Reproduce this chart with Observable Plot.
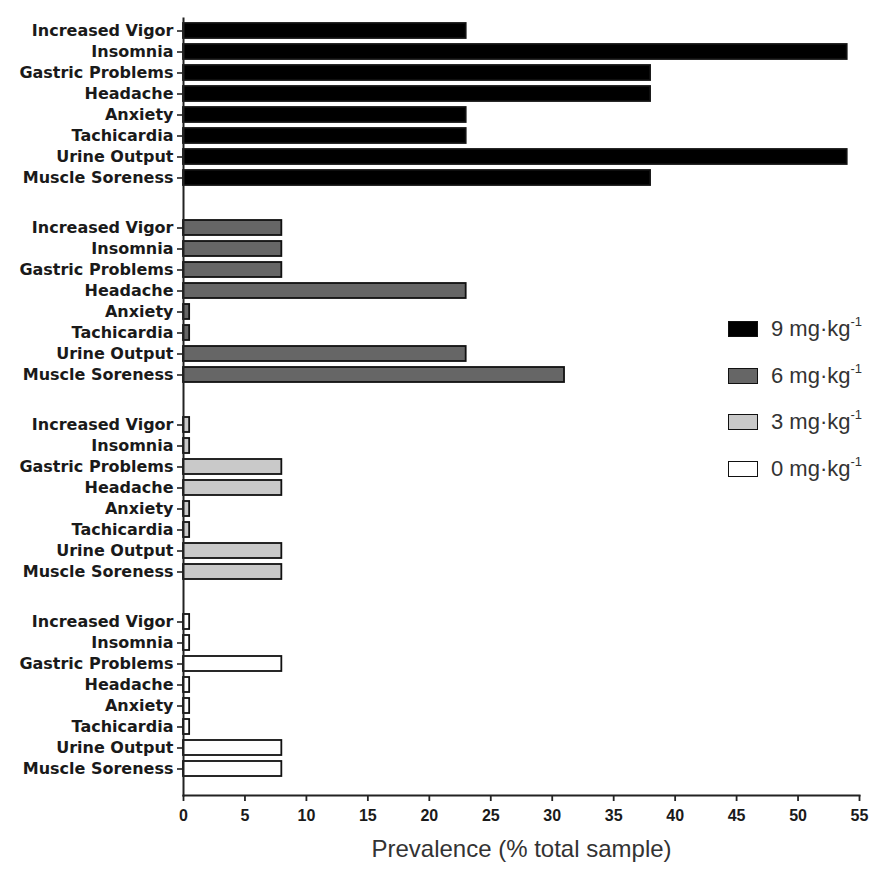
<!DOCTYPE html>
<html>
<head>
<meta charset="utf-8">
<script src="https://cdn.jsdelivr.net/npm/d3@7"></script>
<script src="https://cdn.jsdelivr.net/npm/@observablehq/plot@0.6"></script>
<style>
  body { margin: 0; background: #fff; }
  #wrap { position: relative; width: 873px; height: 872px; }
  .legend { position: absolute; left: 728px; top: 306px; font-family: "Liberation Sans", Arial, sans-serif; font-size: 22px; color: #333; }
  .legend .item { display: flex; align-items: center; height: 46.5px; }
  .legend .sw { width: 28px; height: 14px; border: 1.8px solid #111; margin-right: 13px; box-sizing: content-box; }
  .legend sup { font-size: 13px; position: relative; top: -2px; }
</style>
</head>
<body>
<div id="wrap"></div>
<script>
// ---- data ----
const symptoms = ["Increased Vigor", "Insomnia", "Gastric Problems", "Headache", "Anxiety", "Tachicardia", "Urine Output", "Muscle Soreness"];
const doseKeys = ["9", "6", "3", "0"];
const doseLabels = ["9 mg·kg", "6 mg·kg", "3 mg·kg", "0 mg·kg"];
const dose9 = [23, 54, 38, 38, 23, 23, 54, 38];
const dose6 = [8, 8, 8, 23, 0.5, 0.5, 23, 31];
const dose3 = [0.5, 0.5, 8, 8, 0.5, 0.5, 8, 8];
const dose0 = [0.5, 0.5, 8, 0.5, 0.5, 0.5, 8, 8];
const xTicks = [0, 5, 10, 15, 20, 25, 30, 35, 40, 45, 50, 55];
const xTitle = "Prevalence (% total sample)";

// ---- styles ----
const fills = ["#000000", "#666666", "#c9c9c9", "#ffffff"];

const series = [dose9, dose6, dose3, dose0];
const rows = [];
doseKeys.forEach((k, gi) => symptoms.forEach((s, i) => rows.push({dose: k, symptom: s, value: series[gi][i]})));

const labelFont = {fontFamily: "'DejaVu Sans', sans-serif", fontWeight: "bold", fontSize: 16};

const plot = Plot.plot({
  width: 873,
  height: 872,
  marginTop: 17,
  marginBottom: 75,
  marginLeft: 183,
  marginRight: 14,
  style: {background: "white", color: "#222"},
  x: {domain: [0, 55]},
  y: {domain: symptoms, paddingInner: 0.3, paddingOuter: 0.53, align: 0.2},
  fy: {domain: doseKeys, paddingInner: 0.054, paddingOuter: 0, axis: null, label: null},
  color: {domain: doseKeys, range: fills},
  marks: [
    Plot.barX(rows, {x: "value", y: "symptom", fy: "dose", fill: "dose", stroke: "#111", strokeWidth: 1.8}),
    Plot.axisY({tickSize: 6, tickPadding: 4, label: null, stroke: "#222", strokeWidth: 1.6, ...labelFont, fill: "#1a1a1a"}),
    Plot.axisX({ticks: xTicks, tickSize: 6, tickPadding: 8, label: null, stroke: "#222", strokeWidth: 1.8,
      fontFamily: "'Liberation Sans', Arial, sans-serif", fontWeight: "bold", fontSize: 16, fill: "#1a1a1a"}),
    Plot.frame({anchor: "left", facet: "super", stroke: "#222", strokeWidth: 2}),
    Plot.frame({anchor: "bottom", facet: "super", stroke: "#222", strokeWidth: 2}),
    Plot.text([xTitle], {facet: "super", frameAnchor: "bottom", dy: 61, text: d => d,
      fontFamily: "'Liberation Sans', Arial, sans-serif", fontSize: 24, fill: "#333"})
  ]
});

const wrap = document.getElementById("wrap");
wrap.appendChild(plot);

const legend = document.createElement("div");
legend.className = "legend";
doseKeys.forEach((k, i) => {
  const item = document.createElement("div");
  item.className = "item";
  const sw = document.createElement("div");
  sw.className = "sw";
  sw.style.background = fills[i];
  const t = document.createElement("span");
  t.innerHTML = doseLabels[i] + "<sup>-1</sup>";
  item.appendChild(sw);
  item.appendChild(t);
  legend.appendChild(item);
});
wrap.appendChild(legend);
</script>
</body>
</html>
